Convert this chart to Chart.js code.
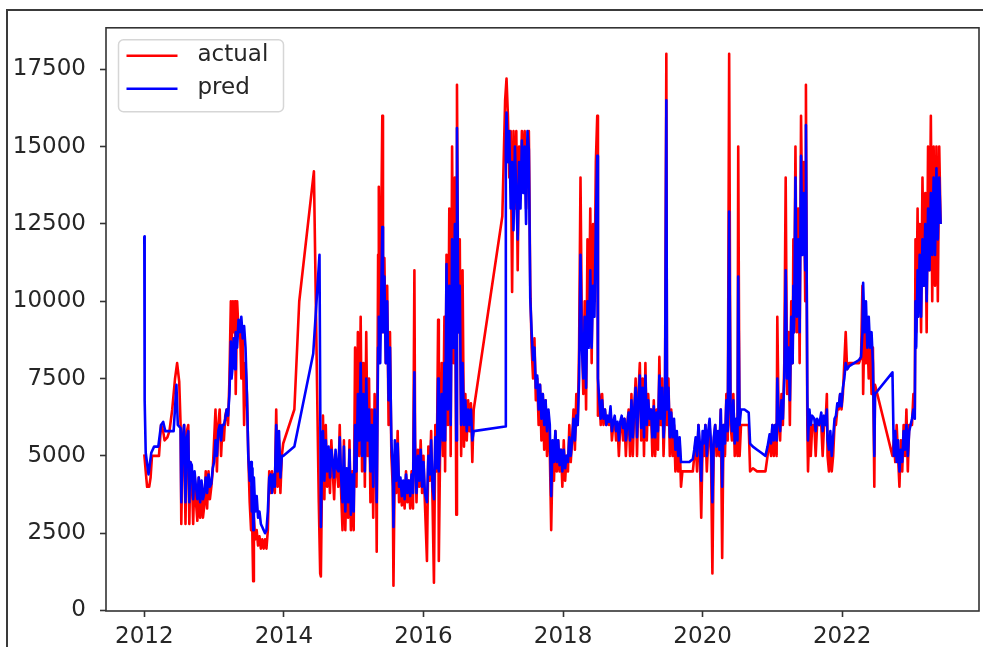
<!DOCTYPE html>
<html>
<head>
<meta charset="utf-8">
<script src="https://cdn.jsdelivr.net/npm/chart.js@4/dist/chart.umd.min.js"></script>
<style>
  html, body { margin: 0; padding: 0; background: #fff; }
  #wrap { position: relative; width: 983px; height: 647px; overflow: hidden; }
  #frame { position: absolute; left: 6px; top: 9px; right: -10px; bottom: -10px;
           border-top: 2px solid #3a3a3a; border-left: 2px solid #3a3a3a; }
  #c { position: absolute; left: 0; top: 0; }
</style>
</head>
<body>
<div id="wrap"><div id="frame"></div><canvas id="c" width="983" height="647"></canvas></div>
<script>
// Series labels and axis ticks
const seriesLabels = ['actual', 'pred'];
const xTickYears = [2012, 2014, 2016, 2018, 2020, 2022];
const yTickValues = [0, 2500, 5000, 7500, 10000, 12500, 15000, 17500];

// Observed values: [decimal year, value]
const actual = [
  [2012.00,5050],[2012.02,4500],[2012.04,4000],[2012.07,4000],[2012.09,4300],[2012.11,5000],[2012.16,5000],[2012.21,5000],[2012.24,6000],[2012.27,5800],[2012.29,5500],[2012.33,5600],[2012.36,5800],[2012.40,6500],[2012.44,7500],[2012.47,8000],[2012.50,7400],[2012.52,6000],
  [2012.53,2800],[2012.55,5500],[2012.57,6000],[2012.59,2800],[2012.61,5800],[2012.63,6000],[2012.645,2800],[2012.66,4800],[2012.68,4500],[2012.70,2800],[2012.72,4400],[2012.74,3500],[2012.76,2900],[2012.78,4300],[2012.80,3000],[2012.82,4000],[2012.84,3000],[2012.86,3400],[2012.88,4500],[2012.90,3300],[2012.92,4500],[2012.94,3600],[2012.96,4000],[2012.98,4500],
  [2013.00,5500],[2013.02,6500],[2013.04,4500],[2013.06,6000],[2013.08,6500],[2013.10,5000],[2013.12,6000],[2013.14,5500],[2013.16,6300],[2013.18,6500],[2013.20,6000],[2013.22,7500],[2013.24,10000],[2013.25,8500],[2013.27,10000],[2013.28,9000],[2013.30,10000],[2013.31,7000],[2013.33,10000],[2013.35,9000],[2013.37,9300],[2013.39,7500],[2013.41,9000],[2013.43,6000],[2013.45,8000],[2013.47,7000],[2013.49,5000],[2013.51,3500],
  [2013.53,2600],[2013.54,4000],[2013.55,2200],[2013.56,950],[2013.57,3000],[2013.59,2300],[2013.61,2600],[2013.63,2100],[2013.65,2400],[2013.67,2000],[2013.69,2300],[2013.71,2000],[2013.73,2300],[2013.75,2000],[2013.77,2600],[2013.79,4500],[2013.81,3800],[2013.83,4500],[2013.85,4000],[2013.87,3800],[2013.89,6500],[2013.91,4000],[2013.93,5500],[2013.95,3800],[2013.97,5000],[2013.99,5400],
  [2014.15,6500],[2014.22,10000],[2014.43,14200],[2014.50,3500],[2014.52,1200],[2014.53,1100],
  [2014.55,5000],[2014.56,6300],[2014.58,3600],[2014.60,6000],[2014.62,4000],[2014.64,5000],[2014.66,3800],[2014.68,5500],[2014.70,4500],[2014.72,3600],[2014.74,5000],[2014.76,4500],[2014.78,4000],[2014.80,6000],[2014.82,3800],[2014.84,2600],[2014.86,5500],[2014.88,2600],[2014.90,4500],[2014.92,3000],[2014.94,5500],[2014.96,2600],[2014.98,4500],[2015.00,2600],
  [2015.02,8500],[2015.04,4000],[2015.06,9000],[2015.08,5000],[2015.10,9500],[2015.12,4500],[2015.14,8000],[2015.16,4000],[2015.18,9000],[2015.20,5000],[2015.22,7500],[2015.24,3500],[2015.26,6500],[2015.28,3000],[2015.30,7000],[2015.32,5000],[2015.33,1900],[2015.35,11500],[2015.36,13700],[2015.38,9000],[2015.41,16000],[2015.42,9000],[2015.44,11400],[2015.46,8000],[2015.48,10500],[2015.50,6000],[2015.52,9000],[2015.54,5000],[2015.56,4000],[2015.57,800],[2015.59,5000],[2015.61,3800],[2015.63,5800],[2015.65,3500],
  [2015.67,4200],[2015.69,3400],[2015.71,4000],[2015.73,3300],[2015.75,4500],[2015.77,3500],[2015.79,4200],[2015.81,3300],[2015.83,4500],[2015.85,3300],[2015.87,11000],[2015.88,5500],[2015.90,3500],[2015.92,5200],[2015.94,4000],[2015.96,5500],[2015.98,3800],[2016.00,5000],[2016.02,3500],[2016.05,1600],[2016.07,5300],[2016.09,4200],[2016.11,5800],[2016.13,3500],[2016.15,900],[2016.17,6000],[2016.19,4500],[2016.21,9400],[2016.22,1600],[2016.24,5500],[2016.26,8000],[2016.28,5000],[2016.30,9500],[2016.31,4500],[2016.33,11500],[2016.35,6000],[2016.37,13000],[2016.39,5000],[2016.41,15000],[2016.43,8000],[2016.45,14000],[2016.47,3100],[2016.48,17000],[2016.50,9000],[2016.52,12000],[2016.54,5000],[2016.56,11000],[2016.58,5300],[2016.60,7000],[2016.62,5500],[2016.64,6800],[2016.66,5800],[2016.68,6700],[2016.70,4800],[2016.72,6500],
  [2017.13,12750],
  [2017.17,16500],[2017.19,17200],[2017.21,16000],[2017.23,14000],[2017.25,15500],[2017.27,10300],[2017.29,15500],[2017.31,13000],[2017.33,15500],[2017.35,11000],[2017.37,15000],[2017.39,13500],[2017.41,15500],[2017.43,14000],[2017.45,15500],[2017.47,13000],[2017.49,15000],[2017.51,15500],
  [2017.53,10500],[2017.55,8500],[2017.57,7500],[2017.59,8800],[2017.61,6800],[2017.63,7500],[2017.65,6000],[2017.67,7300],[2017.69,5500],[2017.71,7000],[2017.73,5200],[2017.75,6800],[2017.77,5000],[2017.79,6000],[2017.81,5200],[2017.83,2600],[2017.85,5000],[2017.87,4200],[2017.89,5800],[2017.91,4500],[2017.93,5500],[2017.95,4500],[2017.97,5200],
  [2017.99,4000],[2018.01,5500],[2018.03,4200],[2018.05,5000],[2018.07,4500],[2018.09,6000],[2018.11,4800],[2018.13,5500],[2018.15,6500],[2018.17,5200],[2018.19,7000],[2018.21,6000],[2018.23,8500],[2018.25,14000],[2018.27,9000],[2018.29,7000],[2018.31,10000],[2018.33,6500],[2018.35,12000],[2018.37,9000],[2018.39,13000],[2018.41,8000],[2018.43,12500],[2018.45,10000],[2018.47,14500],[2018.49,16000],[2018.50,6300],
  [2018.52,7000],[2018.54,6000],[2018.56,7000],[2018.58,6000],[2018.60,6500],[2018.62,6000],[2018.64,6200],[2018.66,6000],[2018.68,6500],[2018.70,5500],[2018.72,6000],[2018.74,6200],[2018.76,5500],[2018.78,6000],[2018.80,5000],[2018.82,6000],[2018.84,6200],[2018.86,5500],[2018.88,6200],[2018.90,5000],[2018.92,6000],[2018.94,6500],[2018.96,5000],[2018.98,7000],
  [2019.00,5000],[2019.02,6500],[2019.04,7500],[2019.06,5000],[2019.08,7000],[2019.10,8000],[2019.12,5500],[2019.14,7500],[2019.16,5000],[2019.18,8000],[2019.20,5500],[2019.22,7000],[2019.24,6000],[2019.26,6500],[2019.28,5000],[2019.30,6800],[2019.32,5000],[2019.34,6500],[2019.36,5200],[2019.38,8200],[2019.40,6000],[2019.42,7500],[2019.44,5000],[2019.46,6500],[2019.48,18000],
  [2019.49,6000],[2019.51,7500],[2019.53,5000],[2019.55,6500],[2019.57,5000],[2019.59,6000],[2019.61,4500],[2019.63,5500],[2019.65,4500],[2019.67,5500],[2019.69,4000],[2019.71,4500],[2019.76,4500],[2019.81,4500],[2019.86,4500],[2019.88,5000],[2019.90,5500],[2019.92,4500],[2019.94,6000],[2019.96,5000],[2019.98,3000],
  [2020.00,5500],[2020.02,5000],[2020.04,6000],[2020.06,4500],[2020.08,5500],[2020.10,6000],[2020.12,5000],[2020.14,1200],[2020.16,5500],[2020.18,6000],[2020.20,5000],[2020.22,5500],[2020.24,5000],[2020.26,6500],[2020.28,1700],[2020.30,6000],[2020.32,5000],[2020.34,7000],[2020.36,5500],[2020.38,18000],[2020.40,6000],[2020.42,5500],[2020.44,7000],[2020.46,5000],[2020.48,6000],[2020.50,5000],[2020.51,15000],[2020.53,5000],[2020.55,6000],[2020.60,6000],[2020.66,6000],[2020.68,4500],[2020.72,4600],[2020.78,4500],[2020.84,4500],[2020.90,4500],[2020.93,5000],[2020.96,5500],[2020.98,5000],
  [2021.00,6000],[2021.02,5000],[2021.04,6000],[2021.06,5000],[2021.07,9500],[2021.09,6000],[2021.11,5500],[2021.13,7000],[2021.15,6000],[2021.17,8000],[2021.19,14000],[2021.21,7000],[2021.23,9000],[2021.25,6000],[2021.27,10000],[2021.29,8000],[2021.30,12000],[2021.31,9000],[2021.33,15000],[2021.35,9000],[2021.37,13000],[2021.39,8000],[2021.41,16000],[2021.43,12000],[2021.45,14500],[2021.47,10000],[2021.48,17000],
  [2021.50,6000],[2021.51,4500],[2021.53,6000],[2021.55,5000],[2021.57,6000],[2021.60,6000],[2021.62,5000],[2021.64,6000],[2021.67,6000],[2021.70,6000],[2021.72,5000],[2021.74,6000],[2021.76,6000],[2021.78,7000],[2021.79,5000],[2021.81,4500],[2021.83,5500],[2021.85,4500],[2021.87,5000],[2021.89,6000],[2021.91,6000],[2021.93,6500],[2021.95,6500],[2021.97,7000],[2021.99,6500],
  [2022.01,7000],[2022.03,8000],[2022.05,9000],[2022.07,7800],[2022.10,8000],[2022.17,8000],[2022.24,8000],[2022.27,8200],[2022.29,10500],[2022.30,7000],[2022.32,9500],[2022.34,8000],[2022.36,9000],[2022.38,7500],[2022.40,8800],[2022.42,7000],[2022.44,8500],[2022.46,4000],[2022.47,7300],
  [2022.72,5000],[2022.74,5500],[2022.76,4800],[2022.78,6000],[2022.80,5000],[2022.82,4000],[2022.84,5500],[2022.86,4500],[2022.88,6000],[2022.90,5000],[2022.92,6500],[2022.94,4500],[2022.96,6000],[2022.98,6000],
  [2023.00,6000],[2023.02,7000],[2023.04,6500],[2023.05,12000],[2023.06,9000],[2023.08,13000],[2023.09,10000],[2023.11,12500],[2023.13,9000],[2023.15,14000],[2023.17,10500],[2023.19,13500],[2023.21,9000],[2023.23,15000],[2023.25,11000],[2023.27,16000],[2023.29,10000],[2023.31,15000],[2023.33,10500],[2023.35,15000],[2023.37,10000],[2023.39,15000],[2023.41,12500]
];

// Model predictions: [decimal year, value]
const pred = [
  [2012.00,12100],[2012.005,6800],[2012.02,5100],[2012.06,4400],[2012.10,5100],[2012.14,5300],[2012.20,5300],[2012.24,6000],[2012.27,6100],[2012.30,5800],[2012.36,5800],[2012.42,5800],[2012.46,7300],[2012.48,6000],[2012.52,5900],
  [2012.53,3500],[2012.55,5500],[2012.57,6000],[2012.59,3500],[2012.61,5600],[2012.63,5800],[2012.645,3500],[2012.66,4800],[2012.68,4700],[2012.70,3600],[2012.72,4500],[2012.74,4000],[2012.76,3600],[2012.78,4300],[2012.80,3500],[2012.82,4200],[2012.84,3600],[2012.86,3800],[2012.88,4300],[2012.90,3800],[2012.92,4400],[2012.94,4000],[2012.96,4100],[2012.98,4600],
  [2013.00,4800],[2013.02,5500],[2013.04,5000],[2013.06,5800],[2013.08,6000],[2013.10,5500],[2013.12,6000],[2013.14,6000],[2013.16,6200],[2013.18,6500],[2013.20,6300],[2013.22,7000],[2013.24,8700],[2013.25,7500],[2013.27,8000],[2013.28,8800],[2013.30,7800],[2013.31,9000],[2013.33,8500],[2013.35,9400],[2013.37,9000],[2013.39,9500],[2013.41,8800],[2013.43,9200],[2013.45,8500],[2013.47,7000],[2013.49,5000],[2013.51,4200],
  [2013.53,4800],[2013.54,3200],[2013.55,4600],[2013.56,2600],[2013.57,4300],[2013.59,3200],[2013.61,3700],[2013.63,3000],[2013.65,3200],[2013.67,2800],[2013.69,2700],[2013.71,2600],[2013.73,2500],[2013.75,2600],[2013.77,3200],[2013.79,4300],[2013.81,4400],[2013.83,3800],[2013.85,4400],[2013.87,4000],[2013.89,6000],[2013.91,4500],[2013.93,5800],[2013.95,4300],[2013.97,5000],[2013.99,5000],
  [2014.15,5300],[2014.42,8300],[2014.51,11500],[2014.53,2700],[2014.54,4000],
  [2014.55,5000],[2014.56,5800],[2014.58,4200],[2014.60,5500],[2014.62,4500],[2014.64,5300],[2014.66,4300],[2014.68,5200],[2014.70,4800],[2014.72,4300],[2014.74,5200],[2014.76,4600],[2014.78,4500],[2014.80,5600],[2014.82,4300],[2014.84,3500],[2014.86,5300],[2014.88,3200],[2014.90,4600],[2014.92,3500],[2014.94,5200],[2014.96,3100],[2014.98,4400],[2015.00,3200],
  [2015.02,6000],[2015.04,4500],[2015.06,7000],[2015.08,5500],[2015.10,8000],[2015.12,5000],[2015.14,7000],[2015.16,4500],[2015.18,7500],[2015.20,5500],[2015.22,6500],[2015.24,4500],[2015.26,6000],[2015.28,4000],[2015.30,6500],[2015.32,5000],[2015.33,3500],[2015.35,8500],[2015.36,9500],[2015.38,8000],[2015.41,12400],[2015.42,9000],[2015.44,10800],[2015.46,8000],[2015.48,10000],[2015.50,6800],[2015.52,8500],[2015.54,5500],[2015.56,4500],[2015.57,2700],[2015.59,5500],[2015.61,4200],[2015.63,5400],[2015.65,4000],
  [2015.67,4300],[2015.69,3700],[2015.71,4200],[2015.73,3600],[2015.75,4400],[2015.77,3800],[2015.79,4200],[2015.81,3700],[2015.83,4400],[2015.85,3800],[2015.87,7700],[2015.88,5000],[2015.90,3800],[2015.92,5000],[2015.94,4200],[2015.96,5200],[2015.98,4000],[2016.00,4800],[2016.02,3800],[2016.05,3500],[2016.07,5000],[2016.09,4400],[2016.11,5500],[2016.13,4000],[2016.15,3600],[2016.17,5600],[2016.19,4600],[2016.21,7500],[2016.22,4500],[2016.24,5500],[2016.26,7000],[2016.28,5500],[2016.30,8000],[2016.31,5500],[2016.33,11200],[2016.35,6500],[2016.37,10500],[2016.39,6000],[2016.41,12000],[2016.43,8500],[2016.45,12500],[2016.47,5500],[2016.48,15600],[2016.50,9000],[2016.52,10500],[2016.54,6000],[2016.56,8000],[2016.58,6000],[2016.60,6800],[2016.62,5800],[2016.64,6500],[2016.66,6000],[2016.68,6500],[2016.70,5500],[2016.72,5800],
  [2017.17,5950],
  [2017.18,15000],[2017.19,16100],[2017.21,14500],[2017.23,15500],[2017.25,13000],[2017.27,14500],[2017.29,12300],[2017.31,15000],[2017.33,13500],[2017.35,12000],[2017.37,14500],[2017.39,13000],[2017.41,15200],[2017.43,13500],[2017.45,15000],[2017.47,12500],[2017.49,15500],[2017.51,14900],
  [2017.53,10100],[2017.55,9000],[2017.57,8100],[2017.59,8500],[2017.61,7200],[2017.63,7600],[2017.65,6500],[2017.67,7300],[2017.69,6200],[2017.71,7000],[2017.73,6000],[2017.75,6800],[2017.77,5800],[2017.79,6500],[2017.81,6000],[2017.83,3700],[2017.85,5500],[2017.87,4800],[2017.89,5800],[2017.91,4800],[2017.93,5500],[2017.95,4700],[2017.97,5200],
  [2017.99,4500],[2018.01,5200],[2018.03,4600],[2018.05,5000],[2018.07,4800],[2018.09,5600],[2018.11,5000],[2018.13,5500],[2018.15,6200],[2018.17,5500],[2018.19,6300],[2018.21,6000],[2018.23,7500],[2018.25,11500],[2018.27,8500],[2018.29,7500],[2018.31,9500],[2018.33,7200],[2018.35,10000],[2018.37,8500],[2018.39,11000],[2018.41,8500],[2018.43,10500],[2018.45,9500],[2018.47,12500],[2018.49,14700],[2018.50,7500],
  [2018.52,6800],[2018.54,6200],[2018.56,6800],[2018.58,6200],[2018.60,6500],[2018.62,6000],[2018.64,6300],[2018.66,6100],[2018.68,6600],[2018.70,5800],[2018.72,6100],[2018.74,6300],[2018.76,5800],[2018.78,6100],[2018.80,5500],[2018.82,6100],[2018.84,6300],[2018.86,5900],[2018.88,6200],[2018.90,5500],[2018.92,6000],[2018.94,6400],[2018.96,5500],[2018.98,6800],
  [2019.00,5600],[2019.02,6500],[2019.04,7200],[2019.06,5600],[2019.08,6800],[2019.10,7600],[2019.12,5900],[2019.14,7200],[2019.16,5600],[2019.18,7600],[2019.20,6000],[2019.22,6800],[2019.24,6200],[2019.26,6500],[2019.28,5600],[2019.30,6600],[2019.32,5600],[2019.34,6400],[2019.36,5800],[2019.38,7600],[2019.40,6200],[2019.42,7200],[2019.44,5600],[2019.46,6400],[2019.48,16500],
  [2019.49,6500],[2019.51,7200],[2019.53,5600],[2019.55,6400],[2019.57,5600],[2019.59,6200],[2019.61,5200],[2019.63,5800],[2019.65,5000],[2019.67,5600],[2019.69,4800],[2019.71,4800],[2019.76,4800],[2019.81,4800],[2019.86,4900],[2019.88,5200],[2019.90,5600],[2019.92,5000],[2019.94,6000],[2019.96,5400],[2019.98,4200],
  [2020.00,5800],[2020.02,5400],[2020.04,6000],[2020.06,5000],[2020.08,5800],[2020.10,6200],[2020.12,5400],[2020.14,3500],[2020.16,5600],[2020.18,6000],[2020.20,5300],[2020.22,5800],[2020.24,5200],[2020.26,6500],[2020.28,4000],[2020.30,6000],[2020.32,5400],[2020.34,6800],[2020.36,5800],[2020.38,12900],[2020.40,6500],[2020.42,5800],[2020.44,6800],[2020.46,5400],[2020.48,6200],[2020.50,5500],[2020.51,10800],[2020.53,6000],[2020.55,6500],[2020.60,6500],[2020.66,6400],[2020.68,5400],[2020.72,5300],[2020.78,5200],[2020.84,5100],[2020.90,5000],[2020.93,5300],[2020.96,5700],[2020.98,5400],
  [2021.00,6000],[2021.02,5500],[2021.04,6000],[2021.06,5500],[2021.07,7500],[2021.09,6200],[2021.11,5800],[2021.13,6800],[2021.15,6200],[2021.17,7500],[2021.19,11000],[2021.21,7500],[2021.23,8500],[2021.25,6800],[2021.27,9500],[2021.29,8000],[2021.30,10500],[2021.31,9000],[2021.33,14000],[2021.35,9500],[2021.37,12000],[2021.39,9000],[2021.41,14700],[2021.43,11500],[2021.45,13500],[2021.47,11000],[2021.48,15700],
  [2021.50,7000],[2021.51,5500],[2021.53,6500],[2021.55,6000],[2021.57,6300],[2021.60,6200],[2021.62,5800],[2021.64,6200],[2021.67,6000],[2021.70,6400],[2021.72,5800],[2021.74,6300],[2021.76,6000],[2021.78,6500],[2021.79,5500],[2021.81,5200],[2021.83,5800],[2021.85,5000],[2021.87,5600],[2021.89,6200],[2021.91,6300],[2021.93,6700],[2021.95,6600],[2021.97,7000],[2021.99,6600],
  [2022.01,7200],[2022.03,7500],[2022.05,8000],[2022.07,7800],[2022.10,7900],[2022.17,8000],[2022.24,8100],[2022.27,8200],[2022.29,9000],[2022.30,10600],[2022.32,9000],[2022.34,10000],[2022.36,8500],[2022.38,9500],[2022.40,8500],[2022.42,9000],[2022.44,8000],[2022.46,5000],[2022.47,7000],
  [2022.72,7700],[2022.74,5000],[2022.76,5800],[2022.78,4800],[2022.80,5500],[2022.82,4500],[2022.84,5200],[2022.86,4800],[2022.88,5800],[2022.90,5200],[2022.92,6000],[2022.94,5000],[2022.96,5800],[2022.98,6000],
  [2023.00,6200],[2023.02,6500],[2023.04,6200],[2023.05,10000],[2023.06,8500],[2023.08,11000],[2023.09,9500],[2023.11,11500],[2023.13,9500],[2023.15,12000],[2023.17,10500],[2023.19,12500],[2023.21,10000],[2023.23,13000],[2023.25,11000],[2023.27,13500],[2023.29,11500],[2023.31,14000],[2023.33,11500],[2023.35,14300],[2023.37,12000],[2023.39,14000],[2023.41,12500]
];

const textColor = '#262626';
const axisColor = '#333333';
const tickFont = { family: 'DejaVu Sans', size: 23 };

// Four-sided axes box drawn over the lines
const axesBox = {
  id: 'axesBox',
  afterDatasetsDraw(chart) {
    const { ctx, chartArea: a } = chart;
    ctx.save();
    ctx.strokeStyle = axisColor;
    ctx.lineWidth = 1.6;
    ctx.strokeRect(a.left, a.top, a.right - a.left, a.bottom - a.top);
    ctx.restore();
  }
};

// Legend in the upper-left corner of the plot area
const cornerLegend = {
  id: 'cornerLegend',
  afterDraw(chart) {
    const { ctx, chartArea: a } = chart;
    const bx = a.left + 12.5, by = a.top + 12, bw = 165, bh = 72, r = 5;
    ctx.save();
    ctx.beginPath();
    ctx.moveTo(bx + r, by);
    ctx.arcTo(bx + bw, by, bx + bw, by + bh, r);
    ctx.arcTo(bx + bw, by + bh, bx, by + bh, r);
    ctx.arcTo(bx, by + bh, bx, by, r);
    ctx.arcTo(bx, by, bx + bw, by, r);
    ctx.closePath();
    ctx.fillStyle = 'rgba(255,255,255,0.8)';
    ctx.fill();
    ctx.strokeStyle = '#d6d6d6';
    ctx.lineWidth = 1.5;
    ctx.stroke();
    ctx.font = '23px "DejaVu Sans"';
    ctx.textBaseline = 'middle';
    ctx.fillStyle = textColor;
    chart.data.datasets.forEach((ds, i) => {
      const ly = by + 16 + i * 33;
      ctx.beginPath();
      ctx.moveTo(bx + 8, ly);
      ctx.lineTo(bx + 59, ly);
      ctx.strokeStyle = ds.borderColor;
      ctx.lineWidth = 2.6;
      ctx.stroke();
      ctx.fillText(ds.label, bx + 79, ly - 1);
    });
    ctx.restore();
  }
};

const toPoints = rows => rows.map(([x, y]) => ({ x, y }));

new Chart(document.getElementById('c'), {
  type: 'line',
  data: {
    datasets: [
      { label: seriesLabels[0], data: toPoints(actual), borderColor: '#ff0000', borderWidth: 2.6,
        pointRadius: 0, tension: 0, fill: false, borderJoinStyle: 'round', order: 1 },
      { label: seriesLabels[1], data: toPoints(pred), borderColor: '#0000ff', borderWidth: 2.6,
        pointRadius: 0, tension: 0, fill: false, borderJoinStyle: 'round', order: 0 }
    ]
  },
  options: {
    responsive: false,
    animation: false,
    devicePixelRatio: 1,
    layout: { padding: { left: 0, right: 4, top: 25, bottom: 0 } },
    plugins: { legend: { display: false }, tooltip: { enabled: false } },
    scales: {
      x: {
        type: 'linear',
        min: 2011.451,
        max: 2023.96,
        afterBuildTicks: s => { s.ticks = xTickYears.map(v => ({ value: v })); },
        afterFit: s => { s.height = 36; },
        ticks: { callback: v => String(v), font: tickFont, color: textColor, padding: 6,
                 maxRotation: 0, autoSkip: false },
        grid: { drawOnChartArea: false, drawTicks: true, tickLength: 6, tickWidth: 1.6, tickColor: axisColor },
        border: { display: false }
      },
      y: {
        type: 'linear',
        min: -16,
        max: 18842,
        afterBuildTicks: s => { s.ticks = yTickValues.map(v => ({ value: v })); },
        afterFit: s => { s.width = 106; },
        ticks: { callback: v => String(v), font: tickFont, color: textColor, padding: 14, autoSkip: false },
        grid: { drawOnChartArea: false, drawTicks: true, tickLength: 6, tickWidth: 1.6, tickColor: axisColor },
        border: { display: false }
      }
    }
  },
  plugins: [axesBox, cornerLegend]
});
</script>
</body>
</html>
